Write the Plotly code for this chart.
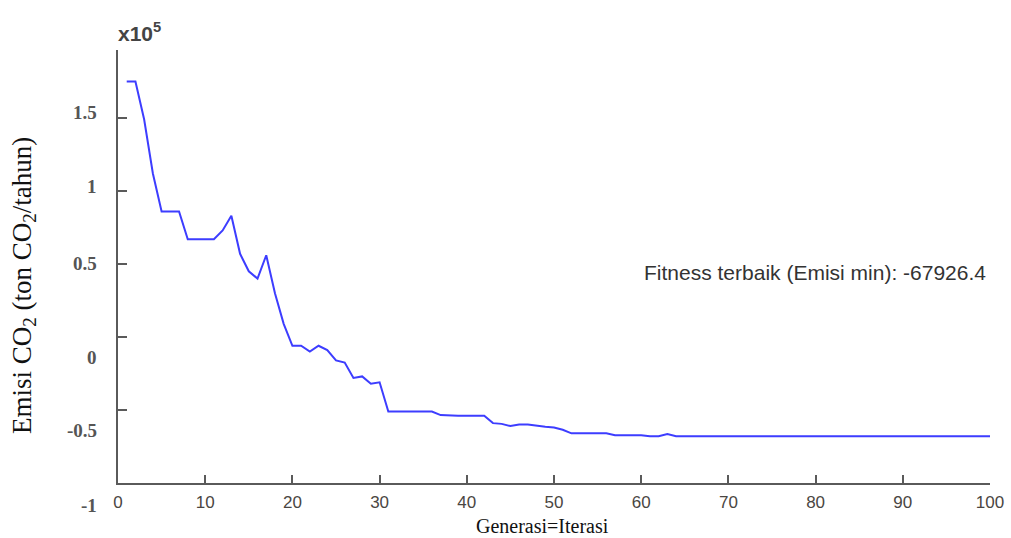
import plotly.graph_objects as go

# Iterations (generations) and best fitness (x10^5 ton CO2/tahun)
generasi = list(range(1, 101))
emisi = [
    1.75, 1.75, 1.49, 1.12, 0.86, 0.86, 0.86, 0.67, 0.67, 0.67,
    0.67, 0.73, 0.83, 0.57, 0.45, 0.40, 0.56, 0.30, 0.09, -0.06,
    -0.06, -0.10, -0.06, -0.09, -0.16, -0.175, -0.28, -0.27, -0.32, -0.31,
    -0.51, -0.51, -0.51, -0.51, -0.51, -0.51, -0.535, -0.54, -0.54, -0.54,
    -0.54, -0.54, -0.59, -0.595, -0.61, -0.60, -0.60, -0.61, -0.615, -0.62,
    -0.635, -0.66, -0.66, -0.66, -0.66, -0.66, -0.673, -0.673, -0.673, -0.673,
    -0.68, -0.68, -0.665, -0.679, -0.679, -0.679, -0.679, -0.679, -0.679, -0.679,
    -0.679, -0.679, -0.679, -0.679, -0.679, -0.679, -0.679, -0.679, -0.679, -0.679,
    -0.679, -0.679, -0.679, -0.679, -0.679, -0.679, -0.679, -0.679, -0.679, -0.679,
    -0.679, -0.679, -0.679, -0.679, -0.679, -0.679, -0.679, -0.679, -0.679, -0.679,
]

x_ticks = [0, 10, 20, 30, 40, 50, 60, 70, 80, 90, 100]
y_ticks = [-0.5, 0, 0.5, 1, 1.5]
y_label_vals = [2, 1.5, 1, 0.5, 0, -0.5, -1]
y_label_text = ["2", "1.5", "1", "0.5", "0", "-0.5", "-1"]
y_label_shift = [18, 6, 5, 1, -20, -20, -22]

best_fitness = -67926.4

fig = go.Figure()
fig.add_trace(go.Scatter(
    x=generasi, y=emisi, mode="lines",
    line=dict(color="#3d3dff", width=2),
    showlegend=False, hoverinfo="skip",
))

axis_col = "#5a5a5a"
fig.update_layout(
    width=1011, height=538,
    margin=dict(l=118, r=21, t=50, b=55, autoexpand=False),
    paper_bgcolor="white", plot_bgcolor="white",
    xaxis=dict(
        range=[0, 100], tickvals=x_ticks, ticktext=[str(v) for v in x_ticks],
        ticks="inside", ticklen=8, tickwidth=2, tickcolor=axis_col,
        showline=True, linecolor=axis_col, linewidth=2,
        showgrid=False, zeroline=False, mirror=False, automargin=False,
        tickfont=dict(family="Liberation Sans, Arial", size=17, color="#4a4642"),
        ticklabelstandoff=3,
    ),
    yaxis=dict(
        range=[-1, 1.966], tickvals=y_ticks, showticklabels=False,
        ticks="inside", ticklen=9, tickwidth=2, tickcolor=axis_col,
        showline=True, linecolor=axis_col, linewidth=2,
        showgrid=False, zeroline=False, mirror=False, automargin=False,
    ),
)

annotations = []
for v, t, s in zip(y_label_vals, y_label_text, y_label_shift):
    annotations.append(dict(
        x=0, xref="paper", y=v, yref="y", text=f"<b>{t}</b>", showarrow=False,
        xanchor="right", yanchor="middle", xshift=-19, yshift=s,
        font=dict(family="Liberation Serif, Times New Roman", size=19, color="#555555"),
    ))

annotations += [
    dict(x=0, xref="paper", y=1.0416, yref="paper", text="<b>x10<sup>5</sup></b>",
         showarrow=False, xanchor="left", yanchor="middle", xshift=-2,
         font=dict(family="Liberation Sans, Arial", size=21, color="#444444")),
    dict(x=-0.108, xref="paper", y=0.457, yref="paper",
         text="Emisi CO<sub>2</sub> (ton CO<sub>2</sub>/tahun)", textangle=-90,
         showarrow=False, xanchor="center", yanchor="middle",
         font=dict(family="Liberation Serif, Times New Roman", size=27, color="#111111")),
    dict(x=0.487, xref="paper", y=-0.1, yref="paper", text="Generasi=Iterasi",
         showarrow=False, xanchor="center", yanchor="middle",
         font=dict(family="Liberation Serif, Times New Roman", size=20, color="#111111")),
    dict(x=100, xref="x", y=0.445, yref="y",
         text=f"Fitness terbaik (Emisi min): {best_fitness}",
         showarrow=False, xanchor="right", yanchor="middle", xshift=-2,
         font=dict(family="Liberation Sans, Arial", size=21, color="#333333")),
]
fig.update_layout(annotations=annotations)

# place the figure at the page's top-left corner (no default body margin)
fig.write_html("out.html", config={"displayModeBar": False},
               post_script="document.body.style.margin='0';")
